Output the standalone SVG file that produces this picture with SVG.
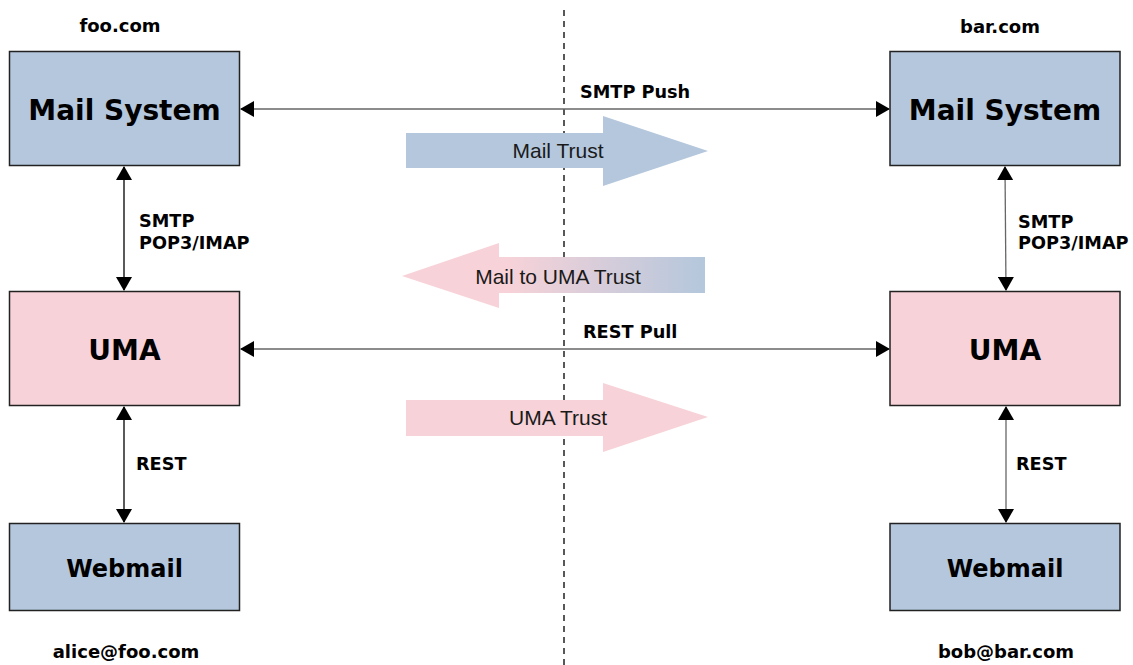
<svg xmlns="http://www.w3.org/2000/svg" width="1133" height="665" viewBox="0 0 1133 665">
<style>
.box{stroke:#222;stroke-width:1.5}
.blue{fill:#b4c7dc}
.pink{fill:#f7d2d8}
.t{font-family:"DejaVu Sans",sans-serif;font-weight:bold;fill:#000}
.big{font-size:28px;text-anchor:middle}
.mid{font-size:24px;text-anchor:middle}
.lbl{font-size:17.7px}
.dom{font-size:18px;text-anchor:middle}
.arr{font-family:"Liberation Sans",Arial,sans-serif;font-size:21px;fill:#1a1a1a;text-anchor:middle}
.conn{fill:none;stroke-width:1.3;marker-start:url(#ah);marker-end:url(#ah)}
</style>
<defs>
<marker id="ah" viewBox="0 0 14 16" refX="13" refY="8" markerWidth="14" markerHeight="16" markerUnits="userSpaceOnUse" orient="auto-start-reverse">
<path d="M0,0 L14,8 L0,16 z" fill="#000"/>
</marker>
<linearGradient id="g" x1="402" y1="0" x2="705" y2="0" gradientUnits="userSpaceOnUse">
<stop offset="0.35" stop-color="#f7d2d8"/>
<stop offset="1" stop-color="#b4c7dc"/>
</linearGradient>
</defs>
<line x1="564" y1="10" x2="564" y2="665" stroke="#222" stroke-width="1.5" stroke-dasharray="6,5"/>
<g id="trust-arrows">
<polygon points="406,133 603,133 603,116 708,151 603,186 603,168 406,168" fill="#b4c7dc"/>
<text class="arr" x="558" y="158">Mail Trust</text>
<polygon points="705,257 499,257 499,243 402,276 499,308 499,293 705,293" fill="url(#g)"/>
<text class="arr" x="558" y="284">Mail to UMA Trust</text>
<polygon points="406,400 603,400 603,383 708,417 603,452 603,436 406,436" fill="#f7d2d8"/>
<text class="arr" x="558" y="425">UMA Trust</text>
</g>
<g id="connectors">
<line class="conn" stroke="#666" x1="241" y1="109" x2="889" y2="109"/>
<line class="conn" stroke="#666" x1="241" y1="349" x2="889" y2="349"/>
<line class="conn" stroke="#000" x1="124" y1="167" x2="124" y2="290"/>
<line class="conn" stroke="#000" x1="124" y1="407" x2="124" y2="522"/>
<line class="conn" stroke="#666" x1="1005" y1="167" x2="1006" y2="290"/>
<line class="conn" stroke="#666" x1="1006" y1="407" x2="1006" y2="522"/>
<text class="t lbl" x="580" y="98">SMTP Push</text>
<text class="t lbl" x="583" y="338">REST Pull</text>
<text class="t lbl" x="139" y="227">SMTP</text>
<text class="t lbl" x="139" y="249">POP3/IMAP</text>
<text class="t lbl" x="1018" y="228">SMTP</text>
<text class="t lbl" x="1018" y="249">POP3/IMAP</text>
<text class="t lbl" x="136" y="470">REST</text>
<text class="t lbl" x="1016" y="470">REST</text>
</g>
<g id="foo-mail"><rect class="box blue" x="9.5" y="51.5" width="230" height="114"/><text class="t big" x="124.5" y="120">Mail System</text></g>
<g id="foo-uma"><rect class="box pink" x="9.5" y="291.5" width="230" height="114"/><text class="t big" x="124.5" y="360">UMA</text></g>
<g id="foo-webmail"><rect class="box blue" x="9.5" y="523.5" width="230" height="87"/><text class="t mid" x="124.5" y="577">Webmail</text></g>
<g id="bar-mail"><rect class="box blue" x="890" y="51.5" width="230" height="114"/><text class="t big" x="1005" y="120">Mail System</text></g>
<g id="bar-uma"><rect class="box pink" x="890" y="291.5" width="230" height="114"/><text class="t big" x="1005" y="360">UMA</text></g>
<g id="bar-webmail"><rect class="box blue" x="890" y="523.5" width="230" height="87"/><text class="t mid" x="1005" y="577">Webmail</text></g>
<g id="labels">
<text class="t dom" x="120" y="32">foo.com</text>
<text class="t dom" x="1000" y="33">bar.com</text>
<text class="t dom" x="126" y="658">alice@foo.com</text>
<text class="t dom" x="1006" y="658">bob@bar.com</text>
</g>
</svg>
